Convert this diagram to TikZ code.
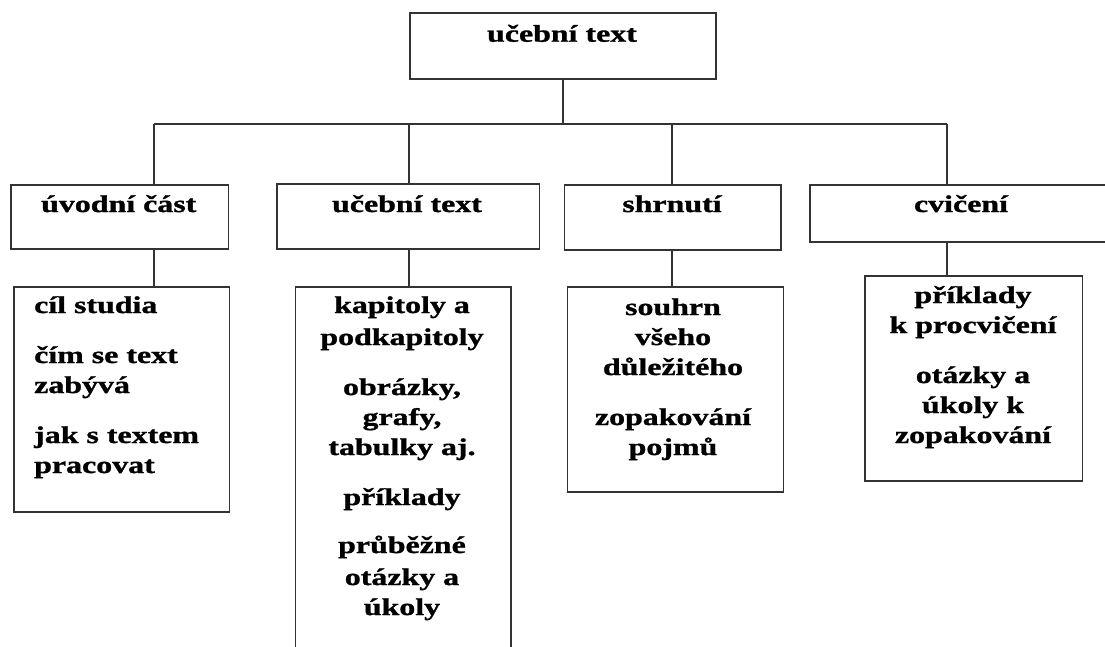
\documentclass[tikz,border=0pt]{standalone}
\usepackage{fontspec}
\setmainfont{Liberation Serif}[FakeStretch=1.33, BoldFeatures={FakeBold=1.2}]
\definecolor{linecol}{HTML}{333333}
\tikzset{
  box/.style={draw=linecol, line width=1.5pt, inner sep=0pt, anchor=north west},
  conn/.style={draw=linecol, line width=1.5pt},
  txt/.style={font=\fontsize{24}{30}\selectfont\bfseries, align=center, inner sep=0pt, anchor=base},
  txtl/.style={font=\fontsize{24}{30}\selectfont\bfseries, align=left, inner sep=0pt, anchor=base west}
}
\begin{document}
\begin{tikzpicture}[x=1pt,y=-1pt]
\useasboundingbox (0,0) rectangle (1105,646);
% boxes
\node[box, minimum width=306pt, minimum height=66pt] (top) at (409,12) {};
\node[box, minimum width=217.5pt, minimum height=64pt] (uvod) at (10,184) {};
\node[box, minimum width=262.6pt, minimum height=65pt] (ucebni) at (276,183) {};
\node[box, minimum width=216.4pt, minimum height=65pt] (shrnuti) at (563.6,184) {};
\node[box, minimum width=310pt, minimum height=57pt] (cviceni) at (809,184) {};
\node[box, minimum width=215.6pt, minimum height=225pt] (cil) at (13,286) {};
\node[box, minimum width=215.4pt, minimum height=420pt] (kapitoly) at (294.6,286) {};
\node[box, minimum width=215.8pt, minimum height=205pt] (souhrn) at (566.7,286) {};
\node[box, minimum width=217.6pt, minimum height=205pt] (priklady) at (864,275) {};
% connector columns
\coordinate (c1) at (154,124);
\coordinate (c2) at (409,124);
\coordinate (c3) at (672,124);
\coordinate (c4) at (947,124);
\draw[conn] (top.south) -- (top.south |- c1);
\draw[conn] (c1) -- (c4);
\draw[conn] (c1) -- (c1 |- uvod.north);
\draw[conn] (c2) -- (c2 |- ucebni.north);
\draw[conn] (c3) -- (c3 |- shrnuti.north);
\draw[conn] (c4) -- (c4 |- cviceni.north);
\draw[conn] (uvod.south -| c1) -- (cil.north -| c1);
\draw[conn] (ucebni.south -| c2) -- (kapitoly.north -| c2);
\draw[conn] (shrnuti.south -| c3) -- (souhrn.north -| c3);
\draw[conn] (cviceni.south -| c4) -- (priklady.north -| c4);
% texts (multi-line nodes: base = baseline of last line)
\node[txt] (topT) at (562,41.7) {učební text};
\node[txt] (uvodT) at (118.75,212) {úvodní část};
\node[txt] (ucebniT) at (407,212) {učební text};
\node[txt] (shrnutiT) at (672,212) {shrnutí};
\node[txt] (cviceniT) at (961,212) {cvičení};
\node[txtl] (cilT) at (34,473) {cíl studia\\[20pt] čím se text\\ zabývá\\[20pt] jak s textem\\ pracovat};
\node[txt] (kapT) at (402,615) {kapitoly a\\[2pt] podkapitoly\\[20pt] obrázky,\\ grafy,\\ tabulky aj.\\[20pt] příklady\\[18pt] průběžné\\[2pt] otázky a\\ úkoly};
\node[txt] (souhrnT) at (673,455) {souhrn\\ všeho\\ důležitého\\[20pt] zopakování\\ pojmů};
\node[txt] (prikladyT) at (973,443) {příklady\\ k procvičení\\[20pt] otázky a\\ úkoly k\\ zopakování};
\end{tikzpicture}
\end{document}
